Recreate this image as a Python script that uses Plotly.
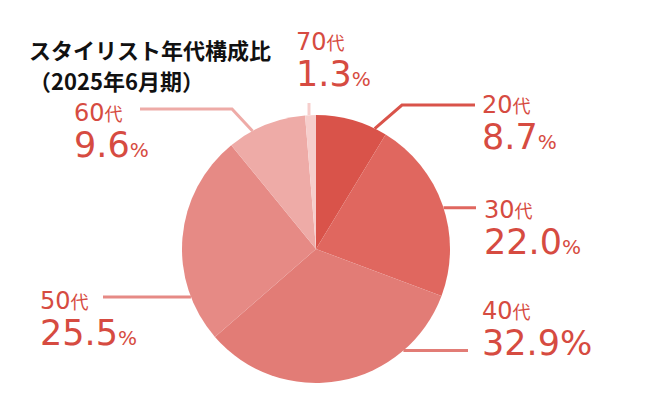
import math

import plotly.graph_objects as go

W, H = 646, 415

# data
ages = ["20代", "30代", "40代", "50代", "60代", "70代"]
shares = [8.7, 22.0, 32.9, 25.5, 9.6, 1.3]
slice_colors = ["#D9534A", "#E0675F", "#E27C76", "#E68A85", "#EEABA7", "#F6CECC"]
title_lines = ["スタイリスト年代構成比", "（2025年6月期）"]

# pie placement in pixels
CX, CY, R = 316, 249, 134
TEXT_RED = "#D64B41"

# label placement (pixels): frac = where along the slice the leader leaves the rim,
# via = further leader points (None = keep previous coordinate), ty = middle of the text block
label_style = {
    "20代": dict(frac=0.83, via=[(402, 105), (475, None)], tx=480, ty=124, pct=20),
    "30代": dict(frac=0.515, via=[(476, None)], tx=482, ty=229, pct=20),
    "40代": dict(frac=0.243, via=[(468, None)], tx=480, ty=330, pct=34),
    "50代": dict(frac=0.218, via=[(103, None)], tx=38, ty=320, pct=20),
    "60代": dict(frac=0.317, via=[(232, 109), (140, None)], tx=72, ty=132, pct=20),
    "70代": dict(frac=0.36, via=[(None, 103)], tx=294, ty=61, pct=20),
}


def px(x):
    return x / W


def py(y):
    return 1 - y / H


fig = go.Figure(go.Pie(
    labels=ages,
    values=shares,
    sort=False,
    direction="clockwise",
    rotation=0,
    textinfo="none",
    hoverinfo="label+percent",
    marker=dict(colors=slice_colors, line=dict(width=0)),
    showlegend=False,
    domain=dict(x=[px(CX - R), px(CX + R)], y=[py(CY + R), py(CY - R)]),
))

annotations = []
shapes = []
total = sum(shares)
start = 0.0
for age, share, color in zip(ages, shares, slice_colors):
    st = label_style[age]
    ang = math.radians((start + st["frac"] * share) / total * 360)
    start += share
    x0, y0 = CX + R * math.sin(ang), CY - R * math.cos(ang)
    pts = [(x0, y0)]
    for vx, vy in st["via"]:
        lx, ly = pts[-1]
        pts.append((lx if vx is None else vx, ly if vy is None else vy))
    path = "M " + " L ".join(f"{px(a):.5f},{py(b):.5f}" for a, b in pts)
    shapes.append(dict(type="path", path=path, xref="paper", yref="paper",
                       line=dict(color=color, width=3)))

    # age label and share on two lines of one text
    text = (f"<span style='font-size:24px'>{age[:-1]}</span>"
            f"<span style='font-size:18px'>{age[-1]}</span><br>"
            f"<span style='font-size:35px'>{share:.1f}</span>"
            f"<span style='font-size:{st['pct']}px'>%</span>")
    annotations.append(dict(
        x=px(st["tx"]), y=py(st["ty"]), xref="paper", yref="paper",
        xanchor="left", yanchor="middle", align="left", showarrow=False,
        text=text,
        font=dict(family="DejaVu Sans, Noto Sans CJK JP", size=28, color=TEXT_RED),
    ))

for text, y in zip(title_lines, [49, 80]):
    annotations.append(dict(
        x=px(27), y=py(y), xref="paper", yref="paper",
        xanchor="left", yanchor="middle", showarrow=False, text=text,
        font=dict(family="Noto Sans CJK JP", size=22, color="#111111", weight="bold"),
    ))

fig.update_layout(
    width=W,
    height=H,
    margin=dict(l=0, r=0, t=0, b=0),
    paper_bgcolor="white",
    plot_bgcolor="white",
    annotations=annotations,
    shapes=shapes,
)

fig.write_html("out.html", config={"displayModeBar": False},
               post_script="document.body.style.margin = '0';")
